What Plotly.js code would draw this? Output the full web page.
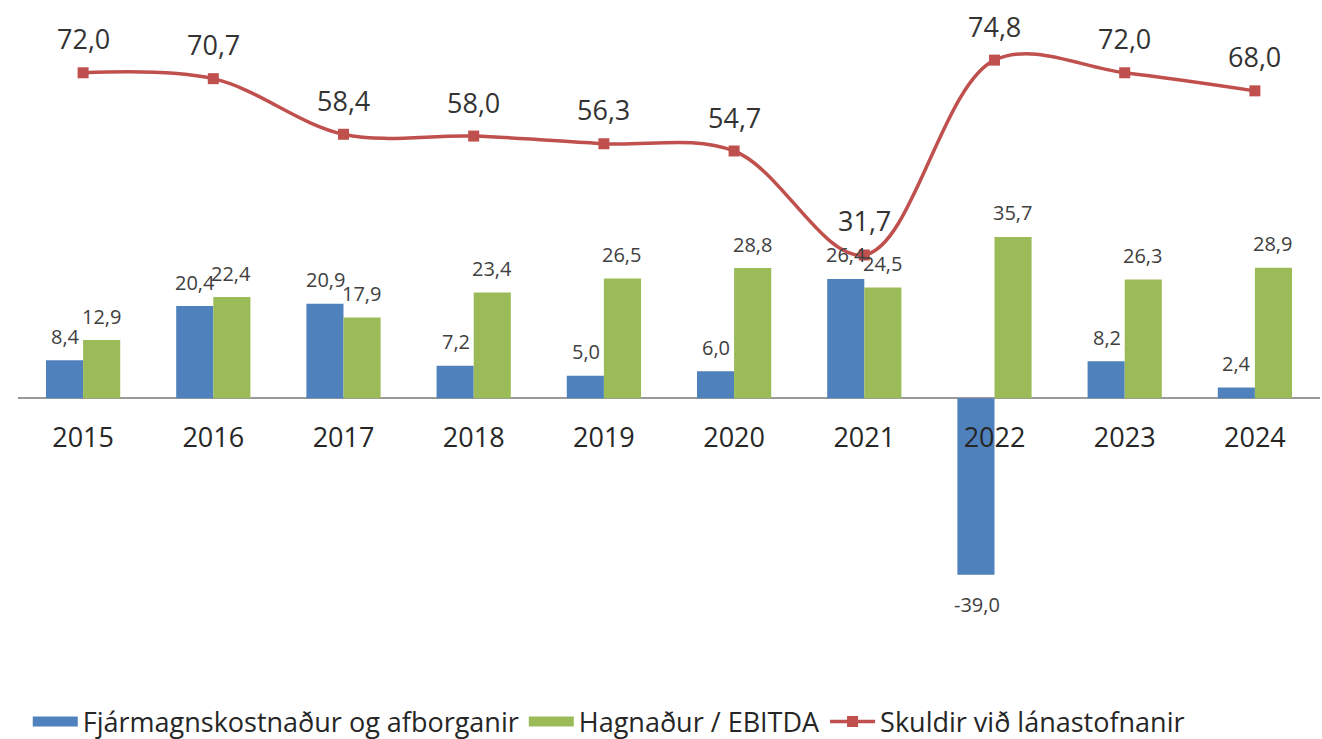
<!DOCTYPE html>
<html>
<head>
<meta charset="utf-8">
<script src="https://cdn.plot.ly/plotly-3.0.1.min.js"></script>
<style>html,body{margin:0;padding:0;background:#fff;}#chart{width:1322px;height:739px;}</style>
</head>
<body>
<div id="chart"></div>
<script>
const years = ['2015','2016','2017','2018','2019','2020','2021','2022','2023','2024'];
const fjarmagn = [8.4, 20.4, 20.9, 7.2, 5.0, 6.0, 26.4, -39.0, 8.2, 2.4];
const hagnadur = [12.9, 22.4, 17.9, 23.4, 26.5, 28.8, 24.5, 35.7, 26.3, 28.9];
const skuldir = [72.0, 70.7, 58.4, 58.0, 56.3, 54.7, 31.7, 74.8, 72.0, 68.0];
const seriesNames = ['Fjármagnskostnaður og afborganir', 'Hagnaður / EBITDA', 'Skuldir við lánastofnanir'];

const FONT = '"Open Sans", "Noto Sans", sans-serif';
const BLUE = '#4F81BD', GREEN = '#9BBB59', RED = '#C0504D';
const fmt = v => v.toFixed(1).replace('.', ',');

const traces = [
  {type:'bar', name:seriesNames[0], x:years, y:fjarmagn, marker:{color:BLUE}, hoverinfo:'skip', showlegend:false},
  {type:'bar', name:seriesNames[1], x:years, y:hagnadur, marker:{color:GREEN}, hoverinfo:'skip', showlegend:false},
  {type:'scatter', mode:'lines+markers', name:seriesNames[2], x:years, y:skuldir,
   line:{color:RED, width:3.5, shape:'spline', smoothing:1},
   marker:{symbol:'square', size:11, color:RED}, hoverinfo:'skip', legendrank:3},
  // legend-only swatches for the bar series (rectangular keys like the original)
  {type:'scatter', mode:'lines', name:seriesNames[0], x:[null], y:[null],
   line:{color:BLUE, width:17}, hoverinfo:'skip', legendrank:1},
  {type:'scatter', mode:'lines', name:seriesNames[1], x:[null], y:[null],
   line:{color:GREEN, width:17}, hoverinfo:'skip', legendrank:2}
];

const annotations = [];
years.forEach((yr, i) => {
  const b1 = fjarmagn[i];
  annotations.push({x:i, y:b1, xref:'x', yref:'y', text:fmt(b1), showarrow:false,
    xshift:-18, yshift: b1 >= 0 ? 24 : -30, font:{family:FONT, size:20, color:'#404040'}});
  const b2 = hagnadur[i];
  annotations.push({x:i, y:b2, xref:'x', yref:'y', text:fmt(b2), showarrow:false,
    xshift:18, yshift:24, font:{family:FONT, size:20, color:'#404040'}});
  annotations.push({x:i, y:skuldir[i], xref:'x', yref:'y', text:fmt(skuldir[i]), showarrow:false,
    yshift:34, font:{family:FONT, size:27, color:'#333333'}});
});

const layout = {
  width:1322, height:739,
  margin:{l:18, r:2, t:14, b:92, autoexpand:false},
  paper_bgcolor:'#ffffff', plot_bgcolor:'#ffffff',
  font:{family:FONT, color:'#333333'},
  barmode:'group', bargap:0.43, bargroupgap:0,
  showlegend:true,
  legend:{orientation:'h', traceorder:'normal', xref:'container', yref:'container', x:0.021, xanchor:'left', y:0.023, yanchor:'middle',
    itemwidth:45, font:{family:FONT, size:27, color:'#262626'}},
  xaxis:{type:'category', categoryorder:'array', categoryarray:years, range:[-0.5, 9.5], autorange:false,
    showline:false, ticks:'', showgrid:false, zeroline:false,
    ticklabelstandoff:-228,
    tickfont:{family:FONT, size:27, color:'#262626'}},
  yaxis:{range:[-55, 85], autorange:false, showticklabels:false, showline:false, showgrid:false, ticks:'',
    zeroline:true, zerolinecolor:'#9a9a9a', zerolinewidth:2},
  annotations:annotations
};

Plotly.newPlot('chart', traces, layout, {staticPlot:true, displayModeBar:false});
</script>
</body>
</html>
